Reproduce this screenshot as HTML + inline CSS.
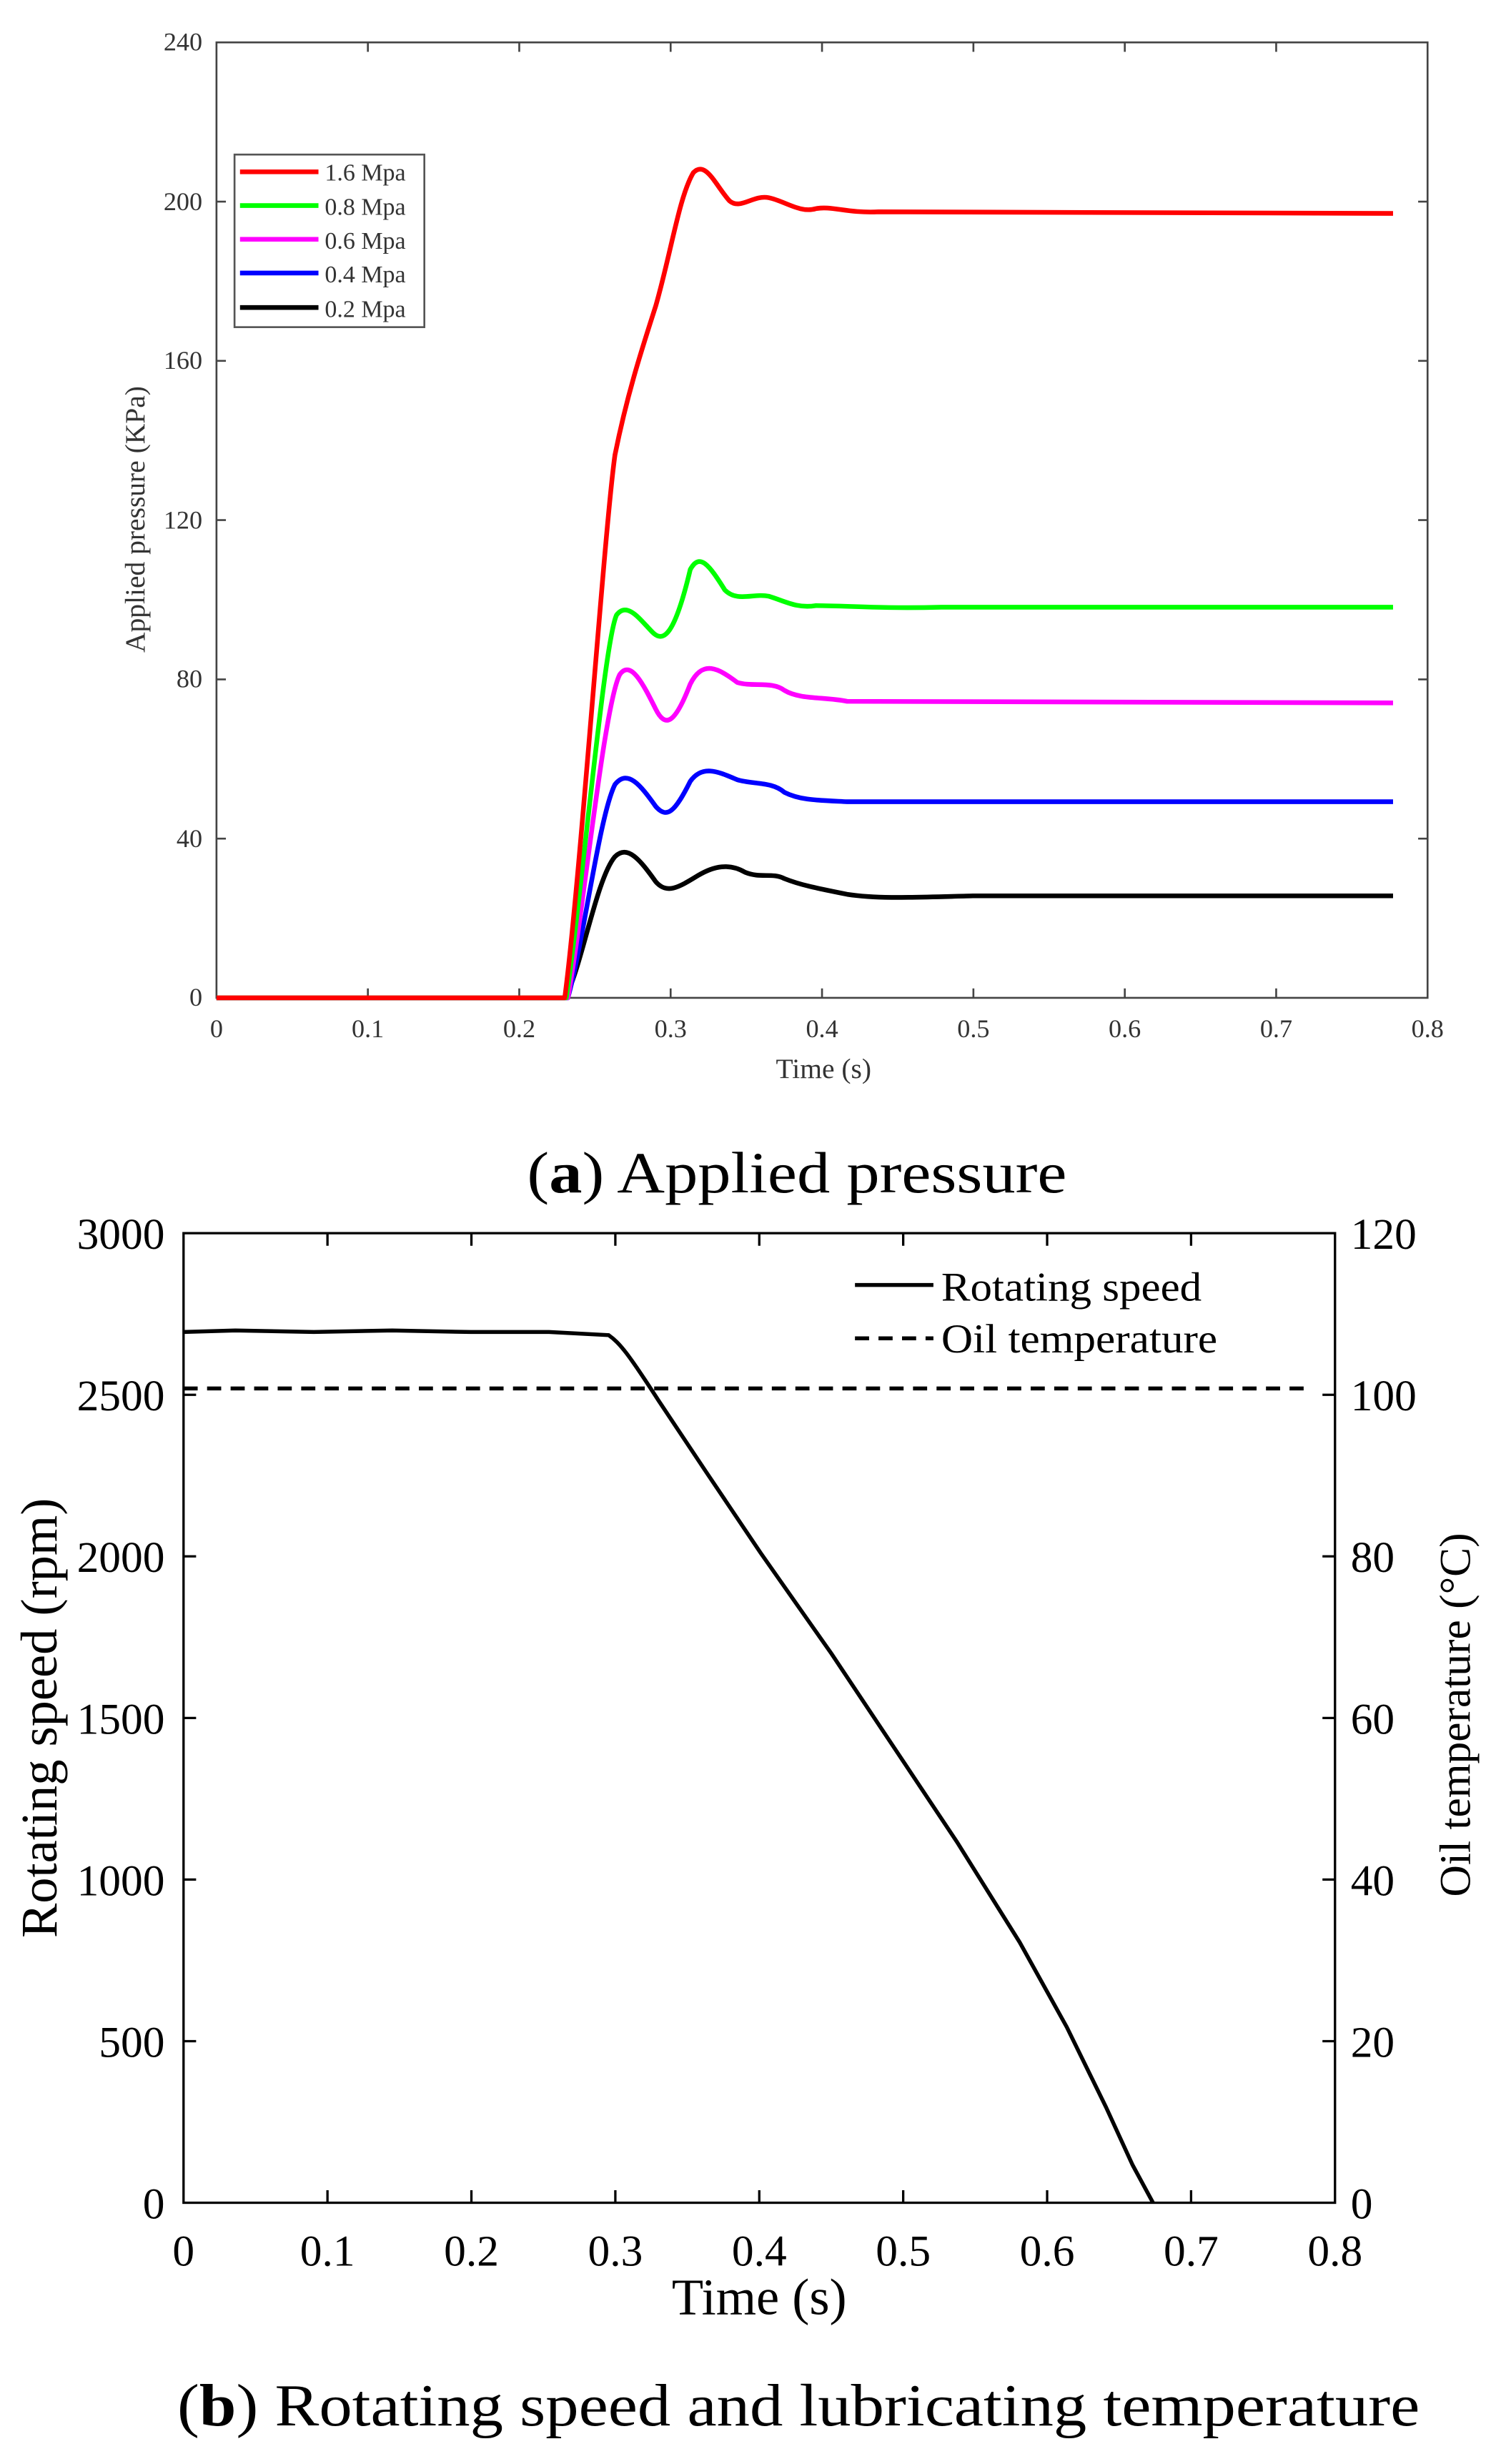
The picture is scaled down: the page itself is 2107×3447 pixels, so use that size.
<!DOCTYPE html>
<html><head><meta charset="utf-8"><style>html,body{margin:0;padding:0;background:#fff}svg{display:block}</style></head>
<body>
<svg width="2107" height="3447" viewBox="0 0 960 1570.5" xmlns="http://www.w3.org/2000/svg" font-family="'Liberation Serif', serif">
<!-- ===== Top plot ===== -->
<g stroke="#444" stroke-width="1.2" fill="none">
<rect x="138" y="27" width="772" height="609"/>
<path d="M234.5,636v-6M331,636v-6M427.5,636v-6M524,636v-6M620.5,636v-6M717,636v-6M813.5,636v-6
M234.5,27v6M331,27v6M427.5,27v6M524,27v6M620.5,27v6M717,27v6M813.5,27v6
M138,534.5h6M138,433h6M138,331.5h6M138,230h6M138,128.5h6
M910,534.5h-6M910,433h-6M910,331.5h-6M910,230h-6M910,128.5h-6"/>
</g>
<g fill="#333" font-size="16.5" text-anchor="end">
<text x="129" y="641">0</text><text x="129" y="540">40</text><text x="129" y="438">80</text>
<text x="129" y="337">120</text><text x="129" y="235">160</text><text x="129" y="134">200</text><text x="129" y="32">240</text>
</g>
<g fill="#333" font-size="16.5" text-anchor="middle">
<text x="138" y="661">0</text><text x="234.5" y="661">0.1</text><text x="331" y="661">0.2</text><text x="427.5" y="661">0.3</text>
<text x="524" y="661">0.4</text><text x="620.5" y="661">0.5</text><text x="717" y="661">0.6</text><text x="813.5" y="661">0.7</text><text x="910" y="661">0.8</text>
<text x="525" y="687" font-size="18">Time (s)</text>
<text transform="translate(92,331) rotate(-90)" font-size="18">Applied pressure (KPa)</text>
</g>
<g fill="none" stroke-width="3" stroke-linejoin="round">
<path stroke="#000" d="M138,636H360 C370,620 380,560 392,546 C400,538 408,548 418,562 C425,570 432,566 445,558 C455,552 465,550 475,556 C485,560 492,556 500,560 C510,564 520,566 540,570 C560,573 580,572 620,571 L888,571"/>
<path stroke="#00f" d="M138,636H362 C372,600 382,520 392,500 C400,490 408,500 418,514 C425,522 430,518 440,498 C448,487 458,492 470,497 C480,500 492,498 500,505 C510,510 520,510 540,511 L888,511"/>
<path stroke="#f0f" d="M138,636H362 C372,580 385,450 395,430 C402,420 410,436 418,452 C424,464 430,462 440,436 C448,420 458,426 470,435 C480,438 492,434 500,440 C510,446 525,444 540,447 L888,448"/>
<path stroke="#0f0" d="M138,636H361 C372,560 385,410 393,392 C400,383 408,395 416,403 C423,410 430,405 440,363 C446,352 452,360 462,376 C470,384 480,378 490,380 C500,383 508,388 520,386 C540,386 560,388 600,387 L888,387"/>
<path stroke="#f00" d="M138,636H360 C370,560 385,340 392,290 C400,250 410,220 418,195 C428,160 433,125 442,110 C450,102 456,118 465,128 C472,134 480,124 490,126 C500,128 510,136 520,133 C530,131 540,136 560,135 L888,136"/>
</g>
<!-- legend -->
<rect x="149.5" y="98.5" width="121" height="110" fill="#fff" stroke="#555" stroke-width="1.2"/>
<g stroke-width="3">
<path stroke="#f00" d="M153,109.5h50"/><path stroke="#0f0" d="M153,131h50"/><path stroke="#f0f" d="M153,152.5h50"/><path stroke="#00f" d="M153,174h50"/><path stroke="#000" d="M153,196h50"/>
</g>
<g font-size="15.5" fill="#333">
<text x="207" y="115">1.6 Mpa</text><text x="207" y="137">0.8 Mpa</text><text x="207" y="158.5">0.6 Mpa</text><text x="207" y="180">0.4 Mpa</text><text x="207" y="202">0.2 Mpa</text>
</g>
<text x="336" y="760" font-size="37" textLength="344" lengthAdjust="spacingAndGlyphs" fill="#000">(<tspan font-weight="bold">a</tspan>) Applied pressure</text>
<!-- ===== Bottom plot ===== -->
<g stroke="#000" stroke-width="1.5" fill="none">
<rect x="117" y="786" width="734" height="618"/>
<path d="M208.75,1404v-8M300.5,1404v-8M392.25,1404v-8M484,1404v-8M575.75,1404v-8M667.5,1404v-8M759.25,1404v-8
M208.75,786v8M300.5,786v8M392.25,786v8M484,786v8M575.75,786v8M667.5,786v8M759.25,786v8
M117,1301h8M117,1198h8M117,1095h8M117,992h8M117,889h8
M851,1301h-8M851,1198h-8M851,1095h-8M851,992h-8M851,889h-8"/>
</g>
<g font-size="28" fill="#000" text-anchor="end">
<text x="105" y="1414">0</text><text x="105" y="1311">500</text><text x="105" y="1208">1000</text><text x="105" y="1105">1500</text>
<text x="105" y="1002">2000</text><text x="105" y="899">2500</text><text x="105" y="796">3000</text>
</g>
<g font-size="28" fill="#000">
<text x="861" y="1414">0</text><text x="861" y="1311">20</text><text x="861" y="1208">40</text><text x="861" y="1105">60</text>
<text x="861" y="1002">80</text><text x="861" y="899">100</text><text x="861" y="796">120</text>
</g>
<g font-size="28" fill="#000" text-anchor="middle">
<text x="117" y="1444">0</text><text x="208.75" y="1444">0.1</text><text x="300.5" y="1444">0.2</text><text x="392.25" y="1444">0.3</text>
<text x="484" y="1444">0.4</text><text x="575.75" y="1444">0.5</text><text x="667.5" y="1444">0.6</text><text x="759.25" y="1444">0.7</text><text x="851" y="1444">0.8</text>
<text x="484" y="1475" font-size="33">Time (s)</text>
<text transform="translate(36,1095) rotate(-90)" font-size="33">Rotating speed (rpm)</text>
<text transform="translate(937,1093) rotate(-90)" font-size="28">Oil temperature (°C)</text>
</g>
<path d="M117,885H832" stroke="#000" stroke-width="2.5" stroke-dasharray="9,6" fill="none"/>
<path d="M117,849 L150,848 L200,849 L250,848 L300,849 L350,849 L388,851 C395,856 400,862 420,893 L450,938 L485,990 L530,1054 L570,1114 L610,1174 L650,1238 L680,1292 L705,1343 L722,1380 L735,1404" stroke="#000" stroke-width="2.5" fill="none"/>
<path d="M545,819h50" stroke="#000" stroke-width="2.5"/>
<path d="M545,853h50" stroke="#000" stroke-width="2.5" stroke-dasharray="9,6"/>
<g font-size="26" fill="#000"><text x="600" y="829" textLength="166" lengthAdjust="spacingAndGlyphs">Rotating speed</text><text x="600" y="862" textLength="176" lengthAdjust="spacingAndGlyphs">Oil temperature</text></g>
<text x="113" y="1546" font-size="38" textLength="792" lengthAdjust="spacingAndGlyphs" fill="#000">(<tspan font-weight="bold">b</tspan>) Rotating speed and lubricating temperature</text>
</svg>
</body></html>
